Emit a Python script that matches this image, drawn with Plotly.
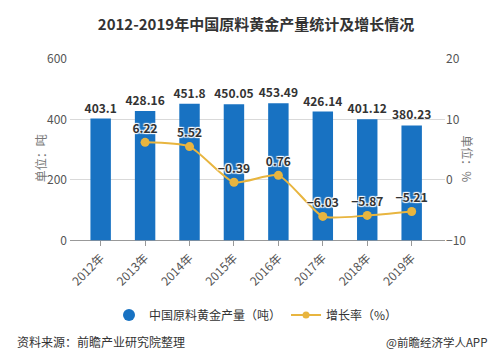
import plotly.graph_objects as go

years = ["2012年", "2013年", "2014年", "2015年", "2016年", "2017年", "2018年", "2019年"]
output_t = [403.1, 428.16, 451.8, 450.05, 453.49, 426.14, 401.12, 380.23]
growth = [None, 6.22, 5.52, -0.39, 0.76, -6.03, -5.87, -5.21]
left_ticks = [0, 200, 400, 600]
right_ticks = [-10, 0, 10, 20]

W, H = 496, 364
FONT = "Microsoft YaHei, Noto Sans CJK SC, sans-serif"
BLUE = "#1872C2"
GOLD = "#E8B53F"

fig = go.Figure()
fig.add_trace(go.Bar(
    x=years, y=output_t, name="中国原料黄金产量（吨）", showlegend=False,
    marker=dict(color=BLUE, line=dict(width=0)), width=0.46,
    text=[f"{v:g}" for v in output_t], textposition="outside", constraintext="none",
    textfont=dict(size=12, color="#333333", family=FONT, weight="bold"),
    cliponaxis=False,
))
fig.add_trace(go.Scatter(
    x=years, y=growth, name="增长率（%）", yaxis="y2", showlegend=False,
    mode="lines+markers+text",
    line=dict(color=GOLD, width=2, shape="spline", smoothing=0.6),
    marker=dict(color=GOLD, size=9),
    text=[("" if g is None else f"{g:g}".replace("-", "−")) for g in growth],
    textposition="top center",
    textfont=dict(size=12, color="#333333", family=FONT, weight="bold",
                  shadow="1px 1px 1px white, -1px -1px 1px white, 1px -1px 1px white, -1px 1px 1px white"),
    cliponaxis=False,
))
# legend proxies
fig.add_trace(go.Scatter(x=[None], y=[None], mode="markers", name="中国原料黄金产量（吨）",
                         marker=dict(color=BLUE, size=12, symbol="circle")))
fig.add_trace(go.Scatter(x=[None], y=[None], mode="lines+markers", name="增长率（%）",
                         line=dict(color=GOLD, width=2), marker=dict(color=GOLD, size=7)))

fig.update_layout(
    width=W, height=H,
    margin=dict(l=62, r=59, t=51, b=123),
    paper_bgcolor="white", plot_bgcolor="white",
    font=dict(family=FONT, color="#555555", size=12),
    title=dict(text="<b>2012-2019年中国原料黄金产量统计及增长情况</b>",
               x=0.5, xanchor="center", y=1 - 17 / H, yanchor="middle",
               font=dict(size=15, color="#333333")),
    xaxis=dict(range=[-0.69, 7.75], tickangle=-45, showgrid=False,
               showline=False, ticks="outside", ticklen=5, tickcolor="#999999",
               tickfont=dict(size=12, color="#555555"), zeroline=False),
    yaxis=dict(range=[0, 600], tickvals=left_ticks, showgrid=True,
               gridcolor="#D9D9D9", gridwidth=1, zeroline=True,
               zerolinecolor="#999999", zerolinewidth=1,
               tickfont=dict(size=12, color="#555555"), ticks="", ticklabelstandoff=2),
    yaxis2=dict(range=[-10, 20], tickvals=right_ticks, overlaying="y", side="right",
                showgrid=False, zeroline=False,
                tickfont=dict(size=12, color="#555555"), ticklabelstandoff=0),
    showlegend=True,
    legend=dict(orientation="h", x=0.5, xanchor="center", xref="container",
                y=1 - 307 / H, yref="container", yanchor="middle",
                font=dict(size=12, color="#333333"), itemwidth=30, tracegroupgap=20),
    annotations=[
        dict(text="单位：吨", xref="paper", yref="paper", x=(22 - 62) / 375, y=0.45,
             textangle=-90, showarrow=False, font=dict(size=12, color="#777777")),
        dict(text="单位：%", x=(470 - 62) / 375, y=0.45, xref="paper", yref="paper",
             textangle=90, showarrow=False, font=dict(size=12, color="#777777")),
        dict(text="资料来源：前瞻产业研究院整理", xref="paper", yref="paper",
             x=(7 - 62) / 375, y=-(347 - 241) / 190, xanchor="left", yanchor="middle",
             showarrow=False, font=dict(size=12, color="#333333")),
        dict(text="@前瞻经济学人APP", xref="paper", yref="paper",
             x=(376 - 62) / 375, y=-(347 - 241) / 190, xanchor="left", yanchor="middle",
             showarrow=False, font=dict(size=11.5, color="#333333")),
    ],
)

fig.write_html("out.html")
